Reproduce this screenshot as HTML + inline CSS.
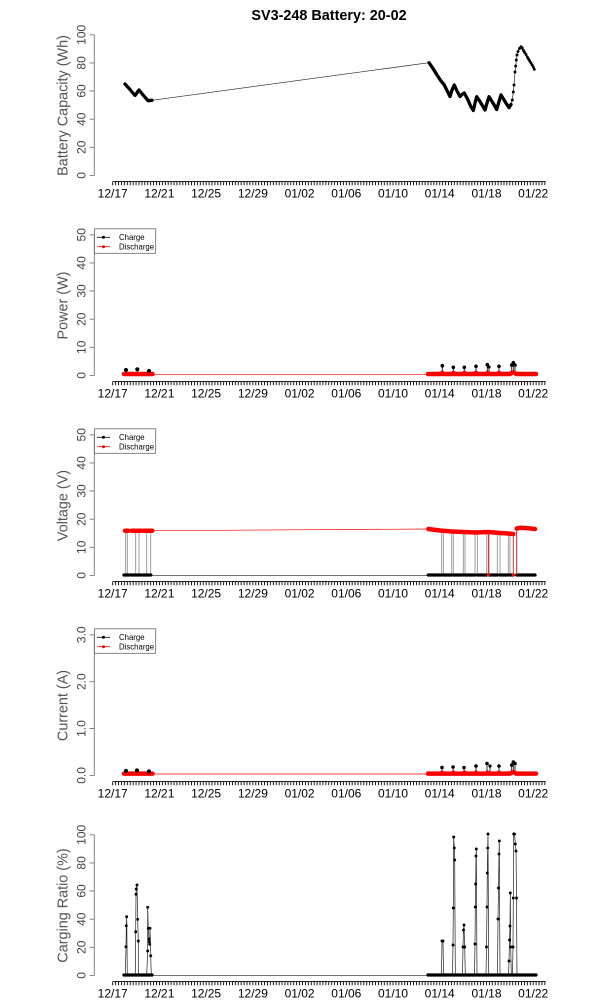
<!DOCTYPE html>
<html>
<head>
<meta charset="utf-8">
<style>
html,body{margin:0;padding:0;background:#fff;}
svg{display:block;font-family:"Liberation Sans",Arial,Helvetica,sans-serif;}
.thick{fill:none;stroke:#000;stroke-width:3.3;stroke-linejoin:round;stroke-linecap:round;}
.thickr{fill:none;stroke:#f00;stroke-width:4.5;stroke-linejoin:round;stroke-linecap:round;}
.thin{fill:none;stroke:#222;stroke-width:0.7;}
.thinr{fill:none;stroke:#f00;stroke-width:0.7;}
.vl{stroke:#888;stroke-width:0.8;}
.yax{stroke:#777;stroke-width:0.9;fill:none;}
.xax{stroke:#000;stroke-width:0.9;fill:none;}
.xt{stroke:#000;stroke-width:3.6;stroke-dasharray:0.9 2.02;fill:none;}
.xl{font-size:12px;fill:#000;text-anchor:middle;}
.yl{font-size:12px;fill:#444;text-anchor:middle;}
.lab{font-size:14.4px;fill:#555;text-anchor:middle;}
.leg{font-size:7.8px;fill:#000;}
.mk{fill:none;stroke:#222;stroke-width:0.7;marker-start:url(#dk);marker-mid:url(#dk);marker-end:url(#dk);}
</style>
</head>
<body>
<svg width="600" height="1000" viewBox="0 0 600 1000" xmlns="http://www.w3.org/2000/svg">
<defs>
<marker id="dk" markerWidth="4" markerHeight="4" refX="2" refY="2" markerUnits="userSpaceOnUse"><circle cx="2" cy="2" r="1.45" fill="#000"/></marker>
</defs>
<rect x="0" y="0" width="600" height="1000" fill="#fff"/>
<text x="329" y="20" font-size="14.4" font-weight="bold" text-anchor="middle" fill="#000">SV3-248 Battery: 20-02</text>

<!-- ================= PANEL 1 ================= -->
<g>
<path class="yax" d="M94.3,175.4V34.8 M89.5,175.4H94.3 M89.5,147.3H94.3 M89.5,119.2H94.3 M89.5,91H94.3 M89.5,62.9H94.3 M89.5,34.8H94.3"/>
<text class="yl" transform="translate(85.5,175.4) rotate(-90)">0</text>
<text class="yl" transform="translate(85.5,147.3) rotate(-90)">20</text>
<text class="yl" transform="translate(85.5,119.2) rotate(-90)">40</text>
<text class="yl" transform="translate(85.5,91) rotate(-90)">60</text>
<text class="yl" transform="translate(85.5,62.9) rotate(-90)">80</text>
<text class="yl" transform="translate(85.5,34.8) rotate(-90)">100</text>
<text class="lab" transform="translate(67.5,105.5) rotate(-90)">Battery Capacity (Wh)</text>
<path class="xax" d="M112.7,181.6H545.7"/>
<path class="xt" d="M112.25,183.5H546"/>
<text class="xl" x="112.7" y="197.5">12/17</text>
<text class="xl" x="159.4" y="197.5">12/21</text>
<text class="xl" x="206.1" y="197.5">12/25</text>
<text class="xl" x="252.9" y="197.5">12/29</text>
<text class="xl" x="299.6" y="197.5">01/02</text>
<text class="xl" x="346.3" y="197.5">01/06</text>
<text class="xl" x="393" y="197.5">01/10</text>
<text class="xl" x="439.7" y="197.5">01/14</text>
<text class="xl" x="486.5" y="197.5">01/18</text>
<text class="xl" x="533.2" y="197.5">01/22</text>

<polyline class="thick" points="125,84 130,89.5 135,95.5 139,90 143.5,95.5 148,100.7 152,100.3"/>
<line class="thin" x1="152" y1="100.3" x2="429" y2="62.7"/>
<polyline class="thick" points="429,62.7 433,68.5 437,75 441,81 444,84.5 447,90.5 450,96.5 452,90 454.3,85 457,91 460,96.5 462,94.5 464.3,93 468,100 471,107 473.3,110.5 475,103 476.7,96.7 480,101.5 485,110 487,103 489,96.7 493,103 496.7,109.5 499,101.5 501,95 505,101.5 509,107.7 511,104.5"/>
<polyline class="mk" points="511,104.5 512.3,100 513.3,92 514,85 515,72 515.7,66 516.3,60 517,55 518,51.5 519.5,48.5 521,46.7 522.3,48 523.5,50.5 524.7,52.5 526,54.5 527.3,57 528.5,59 529.7,61 531,63 532.2,65 533.3,67 534.3,69.3"/>
</g>

<!-- ================= PANEL 2 ================= -->
<g transform="translate(0,200)">
<path class="yax" d="M94.3,175.4V34.8 M89.5,175.4H94.3 M89.5,147.3H94.3 M89.5,119.2H94.3 M89.5,91H94.3 M89.5,62.9H94.3 M89.5,34.8H94.3"/>
<text class="yl" transform="translate(85.5,175.4) rotate(-90)">0</text>
<text class="yl" transform="translate(85.5,147.3) rotate(-90)">10</text>
<text class="yl" transform="translate(85.5,119.2) rotate(-90)">20</text>
<text class="yl" transform="translate(85.5,91) rotate(-90)">30</text>
<text class="yl" transform="translate(85.5,62.9) rotate(-90)">40</text>
<text class="yl" transform="translate(85.5,34.8) rotate(-90)">50</text>
<text class="lab" transform="translate(67.5,105.5) rotate(-90)">Power (W)</text>
<path class="xax" d="M112.7,181.6H545.7"/>
<path class="xt" d="M112.25,183.5H546"/>
<text class="xl" x="112.7" y="197.5">12/17</text>
<text class="xl" x="159.4" y="197.5">12/21</text>
<text class="xl" x="206.1" y="197.5">12/25</text>
<text class="xl" x="252.9" y="197.5">12/29</text>
<text class="xl" x="299.6" y="197.5">01/02</text>
<text class="xl" x="346.3" y="197.5">01/06</text>
<text class="xl" x="393" y="197.5">01/10</text>
<text class="xl" x="439.7" y="197.5">01/14</text>
<text class="xl" x="486.5" y="197.5">01/18</text>
<text class="xl" x="533.2" y="197.5">01/22</text>

<rect x="94.5" y="28.8" width="61.2" height="24.5" fill="#fff" stroke="#666" stroke-width="0.8"/>
<line x1="97" y1="37.3" x2="110" y2="37.3" stroke="#000" stroke-width="0.8"/>
<circle cx="103.5" cy="37.3" r="1.5" fill="#000"/>
<line x1="97" y1="46.7" x2="110" y2="46.7" stroke="#f00" stroke-width="0.8"/>
<circle cx="103.5" cy="46.7" r="1.5" fill="#f00"/>
<text class="leg" x="119" y="40.2">Charge</text>
<text class="leg" x="119" y="49.6">Discharge</text>

<path d="M126,173V170 M137.3,173V169.3 M149,173V171 M442.3,173V165.7 M453.3,173V167.3 M464.3,173V167.3 M476,173V166.3 M487.3,173V164.7 M489,173V167 M499,173V166.3 M511.7,173V165 M513.3,173V162.7 M515,173V165" stroke="#000" stroke-width="0.8"/>
<line class="thinr" x1="152" y1="174.3" x2="428" y2="174.3"/>
<polyline class="thickr" points="124,174 152.5,174"/>
<polyline class="thickr" points="428,174 441,174 442.3,172.8 443.5,174 452.5,174 453.5,172.8 454.5,174 463.5,174 464.5,172.8 465.5,174 475,174 476,172.8 477,174 486.5,174 487.5,172.8 488.5,174 498,174 499,172.8 500,174 510,174 512,172.5 514,172.5 516,174 536,174"/>
<g fill="#000">
<circle cx="126" cy="170" r="2.1"/><circle cx="137.3" cy="169.3" r="2.1"/><circle cx="149" cy="171" r="2.1"/>
<circle cx="442.3" cy="165.7" r="1.8"/><circle cx="453.3" cy="167.3" r="1.8"/><circle cx="464.3" cy="167.3" r="1.8"/>
<circle cx="476" cy="166.3" r="1.8"/><circle cx="487.3" cy="164.7" r="1.8"/><circle cx="489" cy="167" r="1.6"/>
<circle cx="499" cy="166.3" r="1.8"/><circle cx="511.7" cy="165" r="1.8"/><circle cx="513.3" cy="162.7" r="1.8"/><circle cx="515" cy="165" r="1.8"/>
</g>
</g>

<!-- ================= PANEL 3 ================= -->
<g transform="translate(0,400)">
<path class="yax" d="M94.3,175.4V34.8 M89.5,175.4H94.3 M89.5,147.3H94.3 M89.5,119.2H94.3 M89.5,91H94.3 M89.5,62.9H94.3 M89.5,34.8H94.3"/>
<text class="yl" transform="translate(85.5,175.4) rotate(-90)">0</text>
<text class="yl" transform="translate(85.5,147.3) rotate(-90)">10</text>
<text class="yl" transform="translate(85.5,119.2) rotate(-90)">20</text>
<text class="yl" transform="translate(85.5,91) rotate(-90)">30</text>
<text class="yl" transform="translate(85.5,62.9) rotate(-90)">40</text>
<text class="yl" transform="translate(85.5,34.8) rotate(-90)">50</text>
<text class="lab" transform="translate(67.5,105.5) rotate(-90)">Voltage (V)</text>
<path class="xax" d="M112.7,181.6H545.7"/>
<path class="xt" d="M112.25,183.5H546"/>
<text class="xl" x="112.7" y="197.5">12/17</text>
<text class="xl" x="159.4" y="197.5">12/21</text>
<text class="xl" x="206.1" y="197.5">12/25</text>
<text class="xl" x="252.9" y="197.5">12/29</text>
<text class="xl" x="299.6" y="197.5">01/02</text>
<text class="xl" x="346.3" y="197.5">01/06</text>
<text class="xl" x="393" y="197.5">01/10</text>
<text class="xl" x="439.7" y="197.5">01/14</text>
<text class="xl" x="486.5" y="197.5">01/18</text>
<text class="xl" x="533.2" y="197.5">01/22</text>

<rect x="94.5" y="28.8" width="61.2" height="24.5" fill="#fff" stroke="#666" stroke-width="0.8"/>
<line x1="97" y1="37.3" x2="110" y2="37.3" stroke="#000" stroke-width="0.8"/>
<circle cx="103.5" cy="37.3" r="1.5" fill="#000"/>
<line x1="97" y1="46.7" x2="110" y2="46.7" stroke="#f00" stroke-width="0.8"/>
<circle cx="103.5" cy="46.7" r="1.5" fill="#f00"/>
<text class="leg" x="119" y="40.2">Charge</text>
<text class="leg" x="119" y="49.6">Discharge</text>

<path class="vl" d="M125.7,175V131 M127.3,175V131 M135.7,175V131 M139,175V131 M146.7,175V131 M150.7,175V131 M441.7,175V130 M443.3,175V130 M451.7,175V131 M453.3,175V131 M463.3,175V132 M465,175V132 M475,175V132 M477.3,175V132 M486.7,175V132 M489,175V132 M497.3,175V133 M500,175V133 M508.3,175V133 M510,175V133 M516.7,175V129"/>
<line class="thin" x1="152" y1="175.3" x2="428" y2="175.3"/>
<g class="thick">
<path d="M124,175H129 M130.7,175H135.7 M137,175H141 M143.3,175H148.7 M150.7,175H150.8"/>
<path d="M428.3,175H441.7 M443.3,175H451.7 M453.3,175H463.3 M465,175H475 M477.3,175H486.7 M489,175H497.3 M500,175H508.3 M510,175H513.3 M516.7,175H535"/>
</g>
<line class="thinr" x1="152.3" y1="130.7" x2="428.3" y2="129"/>
<path class="thickr" d="M125,130.7H128.3 M131.7,130.7H141 M143.3,130.7H152.3"/>
<polyline class="thickr" points="428.3,129 440,130.5 452,131.5 464,132 476,132.5 488,132 500,133 508,133.5 513.3,134"/>
<path d="M488.3,132V175 M513.3,134V175 M516.7,175V128.5" stroke="#f00" stroke-width="0.8"/>
<circle cx="488.3" cy="175" r="1.5" fill="#f00"/>
<circle cx="513.3" cy="175" r="1.5" fill="#f00"/>
<polyline class="thickr" points="516.7,128.5 520,127.8 528,128.2 535,129"/>
</g>

<!-- ================= PANEL 4 ================= -->
<g transform="translate(0,600)">
<path class="yax" d="M94.3,175.4V34.8 M89.5,175.4H94.3 M89.5,128.5H94.3 M89.5,81.7H94.3 M89.5,34.8H94.3"/>
<text class="yl" transform="translate(85.5,175.4) rotate(-90)">0.0</text>
<text class="yl" transform="translate(85.5,128.5) rotate(-90)">1.0</text>
<text class="yl" transform="translate(85.5,81.7) rotate(-90)">2.0</text>
<text class="yl" transform="translate(85.5,34.8) rotate(-90)">3.0</text>
<text class="lab" transform="translate(67.5,105.5) rotate(-90)">Current (A)</text>
<path class="xax" d="M112.7,181.6H545.7"/>
<path class="xt" d="M112.25,183.5H546"/>
<text class="xl" x="112.7" y="197.5">12/17</text>
<text class="xl" x="159.4" y="197.5">12/21</text>
<text class="xl" x="206.1" y="197.5">12/25</text>
<text class="xl" x="252.9" y="197.5">12/29</text>
<text class="xl" x="299.6" y="197.5">01/02</text>
<text class="xl" x="346.3" y="197.5">01/06</text>
<text class="xl" x="393" y="197.5">01/10</text>
<text class="xl" x="439.7" y="197.5">01/14</text>
<text class="xl" x="486.5" y="197.5">01/18</text>
<text class="xl" x="533.2" y="197.5">01/22</text>

<rect x="94.5" y="28.8" width="61.2" height="24.5" fill="#fff" stroke="#666" stroke-width="0.8"/>
<line x1="97" y1="37.3" x2="110" y2="37.3" stroke="#000" stroke-width="0.8"/>
<circle cx="103.5" cy="37.3" r="1.5" fill="#000"/>
<line x1="97" y1="46.7" x2="110" y2="46.7" stroke="#f00" stroke-width="0.8"/>
<circle cx="103.5" cy="46.7" r="1.5" fill="#f00"/>
<text class="leg" x="119" y="40.2">Charge</text>
<text class="leg" x="119" y="49.6">Discharge</text>

<path d="M126,173V171 M137,173V170.5 M149,173V171.5 M442,173V167.5 M453,173V167 M464,173V167.5 M476,173V166 M487,173V163.5 M490,173V166 M499,173V166 M511.7,173V165 M513.3,173V162 M515,173V163.5" stroke="#000" stroke-width="0.8"/>
<line class="thinr" x1="152.5" y1="174" x2="428" y2="174"/>
<polyline class="thickr" points="124,173.6 152.5,173.6"/>
<polyline class="thickr" points="428,173.6 441,173.6 442,172.6 443,173.6 452.5,173.6 453.5,172.6 454.5,173.6 463.5,173.6 464.5,172.6 465.5,173.6 475,173.6 476,172.6 477,173.6 486.5,173.6 487.5,172.6 488.5,173.6 498,173.6 499,172.6 500,173.6 510,173.6 512,172.3 514,172.3 516,173.6 536,173.6"/>
<g fill="#000">
<circle cx="126" cy="171" r="2.1"/><circle cx="137" cy="170.5" r="2.1"/><circle cx="149" cy="171.5" r="2.1"/>
<circle cx="442" cy="167.5" r="1.8"/><circle cx="453" cy="167" r="1.8"/><circle cx="464" cy="167.5" r="1.8"/>
<circle cx="476" cy="166" r="1.8"/><circle cx="487" cy="163.5" r="1.8"/><circle cx="490" cy="166" r="1.6"/>
<circle cx="499" cy="166" r="1.8"/><circle cx="511.7" cy="165" r="1.8"/><circle cx="513.3" cy="162" r="1.8"/><circle cx="515" cy="163.5" r="1.8"/>
</g>
</g>

<!-- ================= PANEL 5 ================= -->
<g transform="translate(0,800)">
<path class="yax" d="M94.3,175.4V34.8 M89.5,175.4H94.3 M89.5,147.3H94.3 M89.5,119.2H94.3 M89.5,91H94.3 M89.5,62.9H94.3 M89.5,34.8H94.3"/>
<text class="yl" transform="translate(85.5,175.4) rotate(-90)">0</text>
<text class="yl" transform="translate(85.5,147.3) rotate(-90)">20</text>
<text class="yl" transform="translate(85.5,119.2) rotate(-90)">40</text>
<text class="yl" transform="translate(85.5,91) rotate(-90)">60</text>
<text class="yl" transform="translate(85.5,62.9) rotate(-90)">80</text>
<text class="yl" transform="translate(85.5,34.8) rotate(-90)">100</text>
<text class="lab" transform="translate(67.5,105.5) rotate(-90)">Carging Ratio (%)</text>
<path class="xax" d="M112.7,181.6H545.7"/>
<path class="xt" d="M112.25,183.5H546"/>
<text class="xl" x="112.7" y="197.5">12/17</text>
<text class="xl" x="159.4" y="197.5">12/21</text>
<text class="xl" x="206.1" y="197.5">12/25</text>
<text class="xl" x="252.9" y="197.5">12/29</text>
<text class="xl" x="299.6" y="197.5">01/02</text>
<text class="xl" x="346.3" y="197.5">01/06</text>
<text class="xl" x="393" y="197.5">01/10</text>
<text class="xl" x="439.7" y="197.5">01/14</text>
<text class="xl" x="486.5" y="197.5">01/18</text>
<text class="xl" x="533.2" y="197.5">01/22</text>

<line class="thin" x1="152" y1="175.3" x2="428" y2="175.3"/>
<path class="thick" d="M124,175H152 M428,175H536"/>
<polyline class="mk" points="125.3,175 126,146.7 126.3,125.7 126.7,116.7 127.3,175"/>
<polyline class="mk" points="135.3,175 135.7,131.7 136,94.3 136.3,89 137,85 137.7,119.3 138.3,141 138.7,175"/>
<polyline class="mk" points="146.7,175 147.7,151 147.7,107.3 148.3,128.3 149,139 149.3,141.7 149.7,144.3 150,128.3 150.7,155.7 151.3,175"/>
<polyline class="mk" points="441.5,175 442,141 443,141 443.5,175"/>
<polyline class="mk" points="452.5,175 453,145 453.3,108 453.7,37 454.3,48 454.7,60 455.3,175"/>
<polyline class="mk" points="462.5,175 463,147 463.5,130 464,125 464.7,147 465.3,175"/>
<polyline class="mk" points="474.5,175 475,144 475.3,107 475.7,84 476,56 476.3,49 477,175"/>
<polyline class="mk" points="486,175 486.5,147 487,107 487.3,73 487.7,48 488,34 488.7,175"/>
<polyline class="mk" points="497.5,175 498,119 498.5,88 499,54 499.3,41 500,175"/>
<polyline class="mk" points="508.5,175 509,161 509.5,140 510,126 510.3,93 510.7,147 511.3,175"/>
<polyline class="mk" points="512.5,175 513,147 513.3,98 513.7,34 514.5,34 515.3,44 516,51 516.5,98 517,175"/>
</g>
</svg>
</body>
</html>
